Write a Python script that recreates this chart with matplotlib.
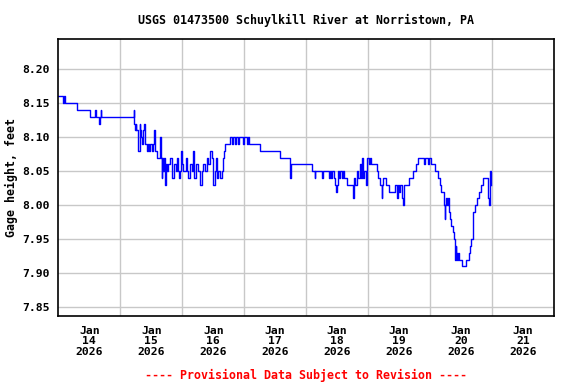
import matplotlib
matplotlib.use("Agg")
import matplotlib.pyplot as plt
import numpy as np

# gage height change points, hours after 2026-01-14 00:00
hours = [0.0, 1.82, 2.40, 2.79, 7.35, 12.27, 14.21, 14.48, 15.87, 16.22, 16.53, 16.72,
         29.30, 29.42, 29.69, 29.96, 30.19, 30.74, 30.97, 31.63, 31.82, 32.21, 32.52,
         32.90, 33.29, 33.56, 34.22, 34.61, 35.11, 35.50, 36.16, 36.77, 37.16, 37.36,
         38.32, 39.48, 39.68, 40.03, 40.26, 40.72, 41.11, 41.30, 41.69, 42.27, 42.66,
         43.24, 44.01, 44.79, 45.56, 45.83, 46.22, 46.72, 47.11, 47.50, 47.88, 48.47,
         49.43, 49.82, 50.32, 50.98, 51.64, 52.26, 52.65, 53.19, 54.08, 54.85, 55.51,
         56.13, 56.79, 57.45, 57.83, 58.72, 59.38, 60.00, 60.66, 61.05, 61.32, 61.94,
         62.59, 63.48, 63.64, 63.87, 64.14, 64.65, 66.47, 67.24, 67.63, 68.40, 68.79,
         69.76, 70.07, 71.50, 71.89, 73.05, 73.55, 73.94, 78.19, 85.94, 89.69, 89.96,
         98.09, 99.37, 99.56, 102.08, 102.35, 104.79, 105.17, 105.56, 105.95, 106.72,
         107.11, 107.50, 107.88, 108.27, 108.66, 109.05, 109.7, 110.2, 110.8, 111.95,
         114.2, 114.4, 114.9, 115.6, 116.2, 116.8, 117.2, 117.7, 117.9, 118.3, 119.1,
         119.7, 120.3, 120.7, 121.1, 123.3, 123.9, 124.5, 125.3, 125.5, 125.8, 127.1,
         128.0, 130.3, 131.1, 131.5, 131.9, 132.5, 133.3, 133.5, 133.8, 135.8, 137.4,
         138.5, 139.4, 141.8, 142.1, 143.2, 143.5, 144.2, 145.8, 147.1, 147.8, 148.4,
         149.3, 149.7, 149.9, 150.1, 150.5, 150.9, 151.3, 151.9, 152.3, 152.9, 153.2,
         153.5, 153.7, 153.9, 154.2, 154.4, 154.7, 155.1, 156.2, 157.8, 159.0, 159.4,
         159.8, 160.7, 161.3, 162.1, 162.9, 163.6, 164.4, 166.3, 166.9, 167.2, 167.6]
gage = [8.16, 8.15, 8.16, 8.15, 8.14, 8.13, 8.14, 8.13, 8.12, 8.13, 8.14, 8.13,
        8.14, 8.12, 8.11, 8.12, 8.11, 8.09, 8.08, 8.12, 8.11, 8.10, 8.09,
        8.11, 8.12, 8.09, 8.08, 8.09, 8.08, 8.09, 8.08, 8.09, 8.11, 8.08,
        8.07, 8.10, 8.07, 8.04, 8.07, 8.05, 8.07, 8.03, 8.06, 8.05, 8.06,
        8.07, 8.04, 8.06, 8.05, 8.07, 8.05, 8.04, 8.05, 8.08, 8.06, 8.05,
        8.07, 8.05, 8.04, 8.06, 8.05, 8.08, 8.04, 8.06, 8.05, 8.03, 8.05,
        8.06, 8.05, 8.07, 8.06, 8.08, 8.07, 8.03, 8.05, 8.07, 8.04, 8.05,
        8.04, 8.05, 8.06, 8.07, 8.08, 8.09, 8.10, 8.09, 8.10, 8.09, 8.10,
        8.09, 8.10, 8.09, 8.10, 8.09, 8.10, 8.09, 8.08, 8.07, 8.04, 8.06,
        8.05, 8.04, 8.05, 8.04, 8.05, 8.04, 8.05, 8.04, 8.05, 8.04,
        8.03, 8.02, 8.03, 8.05, 8.04, 8.05, 8.04, 8.05, 8.04, 8.03,
        8.01, 8.04, 8.03, 8.05, 8.04, 8.06, 8.04, 8.07, 8.04, 8.05, 8.03,
        8.07, 8.06, 8.07, 8.06, 8.05, 8.04, 8.03, 8.01, 8.03, 8.04, 8.03,
        8.02, 8.03, 8.01, 8.03, 8.02, 8.03, 8.01, 8.00, 8.03, 8.04, 8.05,
        8.06, 8.07, 8.06, 8.07, 8.06, 8.07, 8.06, 8.05, 8.04, 8.03, 8.02,
        8.00, 7.98, 8.00, 8.01, 8.00, 8.01, 7.99, 7.98, 7.97, 7.96, 7.95,
        7.93, 7.92, 7.94, 7.93, 7.92, 7.93, 7.92, 7.91, 7.92, 7.93, 7.94,
        7.95, 7.99, 8.00, 8.01, 8.02, 8.03, 8.04, 8.01, 8.00, 8.05, 8.03]

day_labels = ["Jan\n14\n2026", "Jan\n15\n2026", "Jan\n16\n2026", "Jan\n17\n2026",
              "Jan\n18\n2026", "Jan\n19\n2026", "Jan\n20\n2026", "Jan\n21\n2026"]
y_ticks = [7.85, 7.90, 7.95, 8.00, 8.05, 8.10, 8.15, 8.20]

mono = "DejaVu Sans Mono"
fig = plt.figure(figsize=(5.76, 3.84), dpi=100)
ax = fig.add_axes([0.1012, 0.1771, 0.8606, 0.7206])

ax.step(hours, gage, where="post", color="#0000ff", lw=1.0)

ax.set_xlim(0, 192)
ax.set_ylim(7.837, 8.244)
ax.set_xticks(np.arange(len(day_labels)) * 24 + 12)
ax.set_xticklabels(day_labels, family=mono, weight="bold", fontsize=8.2, linespacing=1.05)
ax.set_xticks(np.arange(1, 8) * 24, minor=True)
ax.set_yticks(y_ticks)
ax.set_yticklabels(["%.2f" % v for v in y_ticks], family=mono, weight="bold", fontsize=8.2)
ax.tick_params(which="both", length=0)
ax.tick_params(axis="x", pad=7)
ax.tick_params(axis="y", pad=6)
ax.grid(True, axis="y", color="#c8c8c8", lw=1.0)
ax.grid(True, axis="x", which="minor", color="#c8c8c8", lw=1.0)
ax.set_axisbelow(True)
for s in ax.spines.values():
    s.set_linewidth(1.2)

ax.set_ylabel("Gage height, feet", family=mono, weight="bold", fontsize=8.4, labelpad=3)
fig.text(0.531, 0.948, "USGS 01473500 Schuylkill River at Norristown, PA",
         family=mono, weight="bold", fontsize=8.4, ha="center", va="center")
fig.text(0.531, 0.023, "---- Provisional Data Subject to Revision ----",
         family=mono, weight="bold", fontsize=8.4, color="red", ha="center", va="center")

fig.savefig("out.png", dpi=100)
